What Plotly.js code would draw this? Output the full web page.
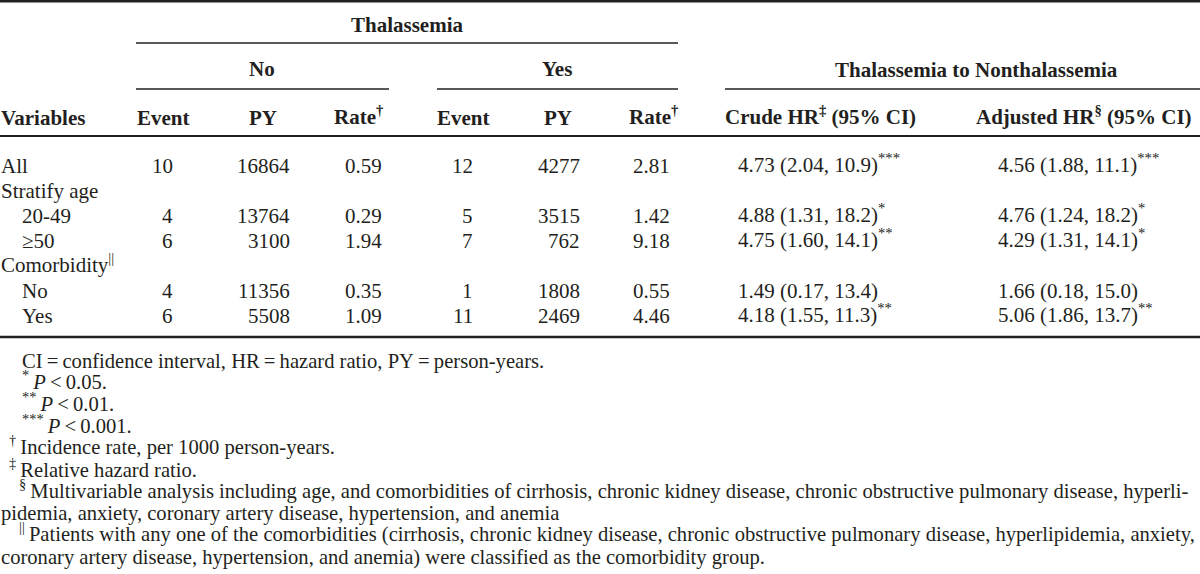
<!DOCTYPE html>
<html>
<head>
<meta charset="utf-8">
<script src="https://cdn.plot.ly/plotly-3.0.1.min.js"></script>
<style>html,body{margin:0;padding:0;background:#fff;}#chart{width:1200px;height:574px;}</style>
</head>
<body>
<div id="chart"></div>
<script>
// ---- data ----
var variables = ["All", "Stratify age", "20-49", "\u226550", "Comorbidity<sup>||</sup>", "No", "Yes"];
var noEvent  = [10, null, 4, 6, null, 4, 6];
var noPY     = [16864, null, 13764, 3100, null, 11356, 5508];
var noRate   = [0.59, null, 0.29, 1.94, null, 0.35, 1.09];
var yesEvent = [12, null, 5, 7, null, 1, 11];
var yesPY    = [4277, null, 3515, 762, null, 1808, 2469];
var yesRate  = [2.81, null, 1.42, 9.18, null, 0.55, 4.46];
var crudeHR  = [4.73, null, 4.88, 4.75, null, 1.49, 4.18];
var crudeLo  = [2.04, null, 1.31, 1.60, null, 0.17, 1.55];
var crudeHi  = [10.9, null, 18.2, 14.1, null, 13.4, 11.3];
var crudeSig = ["***", "", "*", "**", "", "", "**"];
var adjHR    = [4.56, null, 4.76, 4.29, null, 1.66, 5.06];
var adjLo    = [1.88, null, 1.24, 1.31, null, 0.18, 1.86];
var adjHi    = [11.1, null, 18.2, 14.1, null, 15.0, 13.7];
var adjSig   = ["***", "", "*", "*", "", "", "**"];
var colHeaders = ["Variables", "Event", "PY", "Rate<sup>\u2020</sup>", "Event", "PY", "Rate<sup>\u2020</sup>",
                  "Crude HR<sup>\u2021</sup> (95% CI)", "Adjusted HR<sup>\u00a7</sup> (95% CI)"];
var groupHeaders = ["Thalassemia", "No", "Yes", "Thalassemia to Nonthalassemia"];
var footnotes = [
  "CI\u2009=\u2009confidence interval, HR\u2009=\u2009hazard ratio, PY\u2009=\u2009person-years.",
  "<sup>*</sup>\u2009<i>P</i>\u2009<\u20090.05.",
  "<sup>**</sup>\u2009<i>P</i>\u2009<\u20090.01.",
  "<sup>***</sup>\u2009<i>P</i>\u2009<\u20090.001.",
  "<sup>\u2020</sup>\u2009Incidence rate, per 1000 person-years.",
  "<sup>\u2021</sup>\u2009Relative hazard ratio.",
  "<sup>\u00a7</sup>\u2009Multivariable analysis including age, and comorbidities of cirrhosis, chronic kidney disease, chronic obstructive pulmonary disease, hyperli-",
  "pidemia, anxiety, coronary artery disease, hypertension, and anemia",
  "<sup>||</sup>\u2009Patients with any one of the comorbidities (cirrhosis, chronic kidney disease, chronic obstructive pulmonary disease, hyperlipidemia, anxiety,",
  "coronary artery disease, hypertension, and anemia) were classified as the comorbidity group."
];

// ---- layout settings (positions/styles) ----
var rowLevel = [0, 0, 1, 1, 0, 1, 1];
var FONT = "Liberation Serif, Times New Roman, serif";
var INK = "#231f20";
var bodySize = 21, footSize = 20.6;
var rowY0 = 166, rowStep = 25;
var footY0 = 361, footStep = 21.8;
var footX = [21, 21, 21, 21, 8, 8, 18, 0, 18, 0];

var ann = [];
function txt(x, y, t, anchor, size, bold) {
  var hasSup = t.indexOf("<sup>") >= 0;
  ann.push({x: x, y: y, xref: "x", yref: "y", text: bold ? "<b>" + t + "</b>" : t,
    showarrow: false, xanchor: anchor, yanchor: "middle", yshift: hasSup ? 2.5 : 0,
    font: {family: FONT, size: size, color: INK}, borderpad: 0});
}
function fmt(v, d) { return v === null ? null : v.toFixed(d); }

// group headers
txt(407, 25, groupHeaders[0], "center", bodySize, true);
txt(262, 69, groupHeaders[1], "center", bodySize, true);
txt(557, 69, groupHeaders[2], "center", bodySize, true);
txt(976, 70, groupHeaders[3], "center", bodySize, true);
// column headers
var hx = [0, 163, 263, 384, 463, 558, 679, 724, 975];
var ha = ["left", "center", "center", "right", "center", "center", "right", "left", "left"];
colHeaders.forEach(function (h, i) { txt(hx[i], 118, h, ha[i], bodySize, true); });

// body rows
variables.forEach(function (v, i) {
  var y = rowY0 + rowStep * i;
  txt(rowLevel[i] ? 21 : 0, y, v, "left", bodySize, false);
  var cells = [[noEvent[i], 174], [noPY[i], 291], [fmt(noRate[i], 2), 383],
               [yesEvent[i], 474], [yesPY[i], 581], [fmt(yesRate[i], 2), 671]];
  cells.forEach(function (c) { if (c[0] !== null) txt(c[1], y, String(c[0]), "right", bodySize, false); });
  if (crudeHR[i] !== null) {
    txt(737, y, crudeHR[i].toFixed(2) + " (" + crudeLo[i].toFixed(2) + ", " + crudeHi[i].toFixed(1) + ")" +
      (crudeSig[i] ? "<sup>" + crudeSig[i] + "</sup>" : ""), "left", bodySize, false);
    txt(997, y, adjHR[i].toFixed(2) + " (" + adjLo[i].toFixed(2) + ", " + adjHi[i].toFixed(1) + ")" +
      (adjSig[i] ? "<sup>" + adjSig[i] + "</sup>" : ""), "left", bodySize, false);
  }
});

// footnotes
footnotes.forEach(function (f, i) { txt(footX[i], footY0 + footStep * i, f, "left", footSize, false); });

// rules
function rule(x0, x1, y, w) {
  return {type: "line", xref: "x", yref: "y", x0: x0, x1: x1, y0: y, y1: y, line: {color: INK, width: w}};
}
var shapes = [
  rule(0, 1200, 1.3, 2.6),
  rule(136, 678, 43, 1.3),
  rule(136, 389, 89, 1.3),
  rule(437, 678, 89, 1.3),
  rule(725, 1200, 89, 1.3),
  rule(0, 1200, 136, 1.8),
  rule(0, 1200, 337, 2.6)
];

Plotly.newPlot("chart", [{x: [], y: [], type: "scatter", mode: "markers", hoverinfo: "skip", showlegend: false}], {
  width: 1200, height: 574,
  margin: {l: 0, r: 0, t: 0, b: 0, pad: 0},
  paper_bgcolor: "#fff", plot_bgcolor: "#fff",
  xaxis: {range: [0, 1200], visible: false, fixedrange: true},
  yaxis: {range: [574, 0], visible: false, fixedrange: true},
  annotations: ann, shapes: shapes, showlegend: false
}, {staticPlot: true});
</script>
</body>
</html>
